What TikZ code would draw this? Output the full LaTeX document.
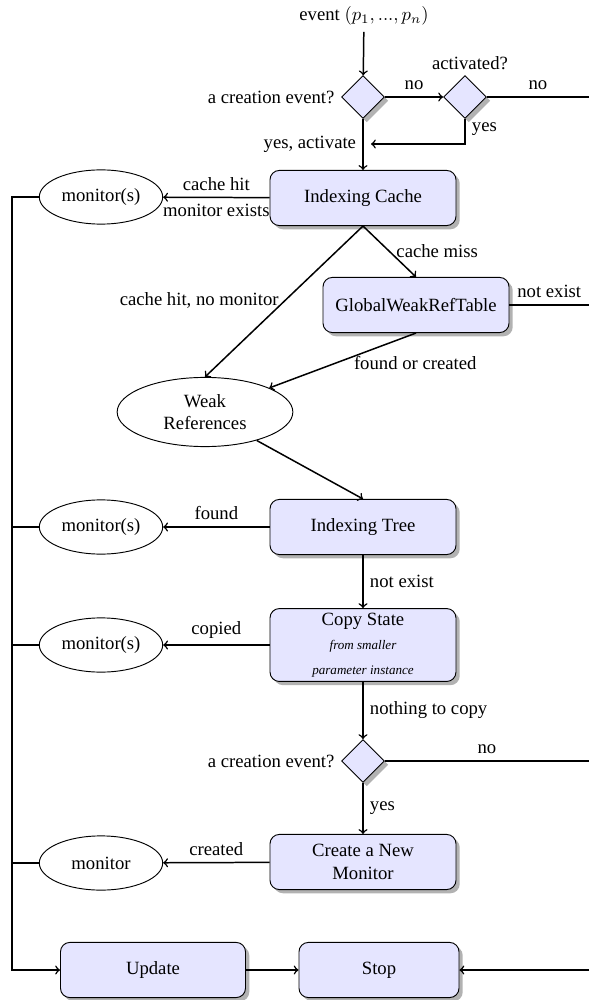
\documentclass[tikz,border=0pt]{standalone}
\usepackage{fontspec}
\setmainfont{Liberation Serif}
\usetikzlibrary{shapes.geometric, shadows}
\begin{document}
\begin{tikzpicture}[x=0.535pt, y=-0.535pt,
  font=\fontsize{10}{12}\selectfont,
  shade/.style={drop shadow={shadow xshift=2pt, shadow yshift=-2pt, fill=black!30, opacity=1}},
  flowbox/.style={draw, line width=0.5pt, rounded corners=5pt, fill=blue!10,
    minimum width=99.5pt, minimum height=29.5pt, align=center, inner sep=2pt, shade},
  decide/.style={draw, diamond, aspect=1, line width=0.5pt, fill=blue!10,
    minimum width=23pt, minimum height=23pt, inner sep=0pt, shade},
  store/.style={draw, ellipse, line width=0.5pt, minimum width=66pt,
    minimum height=29pt, inner sep=0pt, align=center},
  flow/.style={thick, ->},
  link/.style={thick},
  note/.style={font=\scriptsize\itshape}
]
\useasboundingbox (0,0) rectangle (589,1000);

% entry and first decisions
\node (event) at (364,16) {event $(p_1, ..., p_n)$};
\node[decide] (d1) at (363,97) {};
\node[decide] (d2) at (465,97) {};
\node (act) at (470,63) {activated?};
\node[left] (q1) at (d1.west) {a creation event?};
\coordinate (r1) at (589,97);
\coordinate (back) at (371,144);

% lookup chain
\node[flowbox] (cache) at (363,198) {Indexing Cache};
\node[flowbox] (gwrt) at (416,305) {GlobalWeakRefTable};
\coordinate (r2) at (589,305);
\node[store, minimum width=94pt, minimum height=37pt, inner sep=1pt] (weak) at (205,412) {Weak\\References};
\node[flowbox] (tree) at (363,527) {Indexing Tree};
\node[flowbox, minimum height=39pt] (copy) at (363,645)
  {Copy State\\[1pt]{\scriptsize\itshape from smaller}\\[1pt]{\scriptsize\itshape parameter instance}};
\node[decide] (d3) at (363,761) {};
\node[left] (q3) at (d3.west) {a creation event?};
\coordinate (r3) at (589,761);
\node[flowbox] (create) at (363,862) {Create a New\\Monitor};

% monitors found along the way
\node[store] (m1) at (101,197) {monitor(s)};
\node[store] (m2) at (101,527) {monitor(s)};
\node[store] (m3) at (101,645) {monitor(s)};
\node[store] (m4) at (101,863) {monitor};

% final steps
\node[flowbox, minimum width=99pt] (update) at (153,970) {Update};
\node[flowbox, minimum width=85.6pt] (stop) at (379,970) {Stop};
\coordinate (r4) at (589,970);

% bus on the left
\coordinate (bt) at (12,197);
\coordinate (bb) at (12,970);

% connectors
\draw[flow] (event) -- (d1);
\draw[flow] (d1) -- node[above] {no} (d2);
\draw[link] (d2) -- node[above] {no} (r1);
\draw[flow] (d2.south) |- node[pos=0.2, right] {yes} (back);
\draw[flow] (d1) -- node[midway, left] {yes, activate} (cache);

\draw[flow] (cache) -- node[above] {cache hit} node[below] {monitor exists} (m1);
\draw[flow] (cache.south) -- node[pos=0.49, left] {cache hit, no monitor} (weak.north);
\draw[flow] (cache.south) -- node[right] {cache miss} (gwrt.north);
\draw[link] (gwrt) -- node[above] {not exist} (r2);
\draw[flow] (gwrt.south) -- node[pos=0.47, right, yshift=-2pt] {found or created} (weak);
\draw[flow] (weak) -- (tree.north);

\draw[flow] (tree) -- node[above] {found} (m2);
\draw[flow] (tree) -- node[right] {not exist} (copy);
\draw[flow] (copy) -- node[above] {copied} (m3);
\draw[flow] (copy) -- node[right] {nothing to copy} (d3);
\draw[link] (d3) -- node[above] {no} (r3);
\draw[flow] (d3) -- node[right] {yes} (create);
\draw[flow] (create) -- node[above] {created} (m4);

\draw[flow] (m1.west) -- (bt) -- (bb) -- (update.west);
\draw[link] (m2.west) -- (m2.west -| bt);
\draw[link] (m3.west) -- (m3.west -| bt);
\draw[link] (m4.west) -- (m4.west -| bt);

\draw[flow] (update) -- (stop);
\draw[flow] (r4) -- (stop);
\end{tikzpicture}
\end{document}
